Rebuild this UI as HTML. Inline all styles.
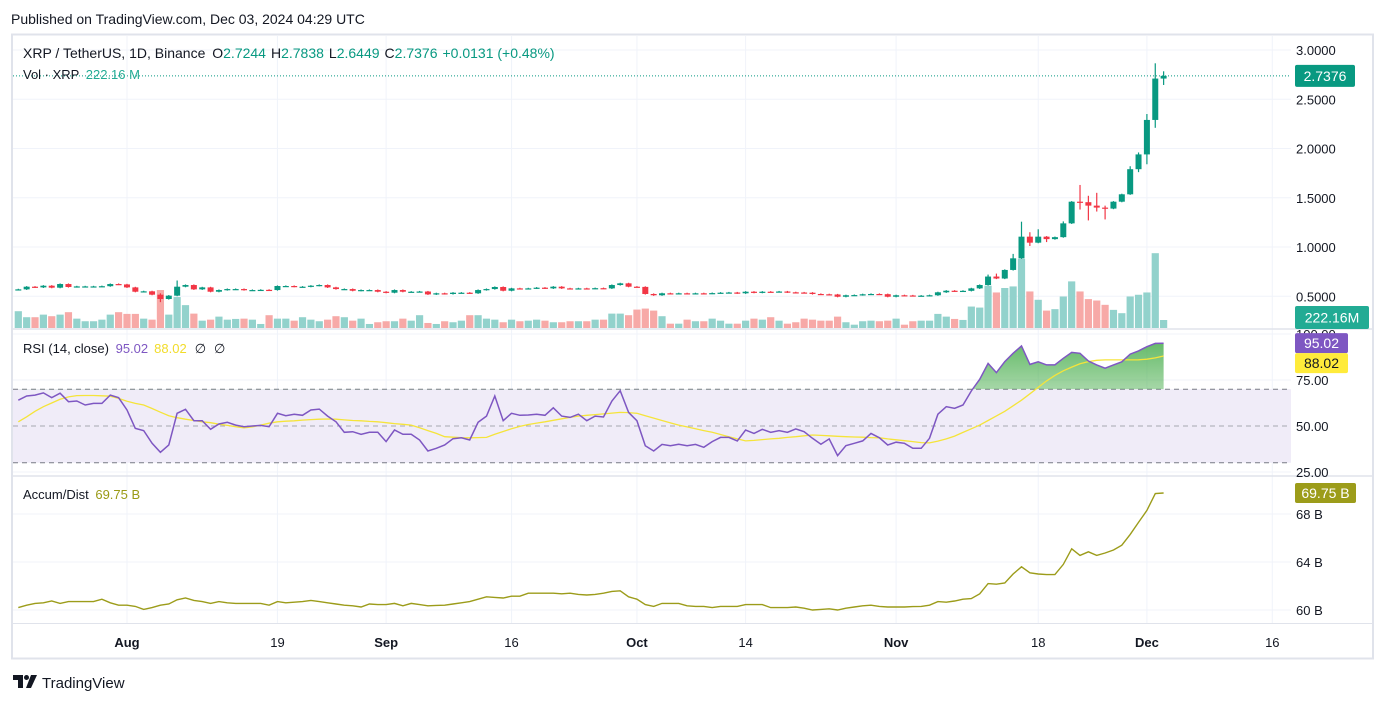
<!DOCTYPE html>
<html><head><meta charset="utf-8">
<style>
html,body{margin:0;padding:0;background:#fff;}
body{width:1387px;height:703px;position:relative;overflow:hidden;font-family:"Liberation Sans",sans-serif;color:#131722;}
svg text{font-family:"Liberation Sans",sans-serif;}
</style></head>
<body>
<svg id="chart" width="1387" height="703" viewBox="0 0 1387 703" xmlns="http://www.w3.org/2000/svg">
  <defs>
    <clipPath id="clipMain"><rect x="13" y="36" width="1278" height="292"/></clipPath>
    <clipPath id="clipRsi"><rect x="13" y="330" width="1278" height="145"/></clipPath>
    <clipPath id="clipRsiHi"><rect x="13" y="330" width="1278" height="59.2"/></clipPath>
    <clipPath id="clipAd"><rect x="13" y="477" width="1278" height="146"/></clipPath>
    <linearGradient id="rsiGrad" x1="0" y1="0" x2="0" y2="1">
      <stop offset="0" stop-color="#4caf50" stop-opacity="0.85"/>
      <stop offset="1" stop-color="#4caf50" stop-opacity="0"/>
    </linearGradient>
  </defs>
  <text x="11" y="24" font-size="14" fill="#131722">Published on TradingView.com, Dec 03, 2024 04:29 UTC</text>
  <rect x="12" y="34.5" width="1361" height="624" fill="none" stroke="#e0e3eb" stroke-width="2"/>
  <g id="grid"></g>
  <rect x="13" y="389.2" width="1278" height="73.6" fill="#f0ecf8"/>
  <g id="rsiGuides"></g>
  <line x1="13" y1="329" x2="1373" y2="329" stroke="#e0e3eb" stroke-width="1.5"/>
  <line x1="13" y1="476" x2="1373" y2="476" stroke="#e0e3eb" stroke-width="1.5"/>
  <line x1="13" y1="623.5" x2="1373" y2="623.5" stroke="#e0e3eb" stroke-width="1"/>
  <g id="volumes" clip-path="url(#clipMain)"></g>
  <line id="lastLine" x1="13" x2="1291" stroke="#089981" stroke-width="1" stroke-dasharray="1,2"/>
  <g id="candles" clip-path="url(#clipMain)"></g>
  <g id="rsiG" clip-path="url(#clipRsi)"></g>
  <g id="adG" clip-path="url(#clipAd)"></g>
  <g id="axes"></g>

  <text x="23" y="58" font-size="14" fill="#131722">XRP / TetherUS, 1D, Binance <tspan dx="3">O</tspan><tspan fill="#089981">2.7244</tspan><tspan dx="5">H</tspan><tspan fill="#089981">2.7838</tspan><tspan dx="5">L</tspan><tspan fill="#089981">2.6449</tspan><tspan dx="5">C</tspan><tspan fill="#089981">2.7376</tspan><tspan dx="5" fill="#089981">+0.0131 (+0.48%)</tspan></text>
  <text x="23" y="79" font-size="13" fill="#131722">Vol · XRP <tspan dx="3" fill="#22ab94">222.16 M</tspan></text>
  <text x="23" y="353" font-size="13" fill="#131722">RSI (14, close) <tspan dx="3" fill="#7e57c2">95.02</tspan><tspan dx="6" fill="#f2dc2a">88.02</tspan><tspan dx="8">∅</tspan><tspan dx="8">∅</tspan></text>
  <text x="23" y="499" font-size="13" fill="#131722">Accum/Dist <tspan dx="3" fill="#9a9a16">69.75 B</tspan></text>

  <g>
    <path d="M13 675h10v13h-5v-8h-5z" fill="#131722"/>
    <circle cx="26.5" cy="677.5" r="2.5" fill="#131722"/>
    <path d="M31 675h6l-6 13h-5z" fill="#131722"/>
    <text x="42" y="688" font-size="15" fill="#131722">TradingView</text>
  </g>
</svg>
<script>
const closes=[.570,.597,.590,.607,.587,.624,.594,.600,.600,.600,.602,.624,.620,.590,.546,.550,.516,.472,.506,.597,.614,.570,.590,.546,.563,.573,.573,.563,.563,.565,.563,.604,.604,.597,.597,.607,.614,.590,.573,.573,.556,.563,.563,.546,.536,.563,.546,.546,.548,.519,.530,.523,.536,.536,.530,.563,.573,.594,.556,.580,.578,.580,.587,.580,.597,.580,.578,.580,.578,.582,.580,.614,.631,.597,.595,.523,.510,.530,.528,.530,.528,.530,.528,.532,.536,.538,.530,.546,.536,.546,.544,.548,.540,.538,.536,.523,.520,.518,.495,.510,.512,.520,.523,.521,.495,.510,.508,.505,.506,.510,.540,.556,.550,.555,.580,.614,.700,.680,.767,.885,1.105,1.044,1.105,1.080,1.100,1.240,1.460,1.455,1.420,1.400,1.390,1.460,1.535,1.790,1.940,2.290,2.710,2.7376];
const firstOpen=0.565;
const wickHiIdx=[17,19,116,117,119,120,121,122,125,127,128,129,130,133,134,135,136,137];
const wickHiVal=[0.53,0.66,0.72,0.73,0.93,1.257,1.15,1.18,1.26,1.63,1.52,1.55,1.42,1.82,1.96,2.35,2.865,2.7838];
const wickLoIdx=[17,121,123,127,128,129,130,134,135,136,137];
const wickLoVal=[0.44,1.01,1.05,1.38,1.27,1.36,1.28,1.76,1.84,2.21,2.6449];
const volumes=[467,300,300,372,328,372,440,260,188,188,232,372,440,392,392,260,232,1056,372,860,636,400,204,232,316,232,252,260,232,112,356,260,260,204,300,232,188,232,328,300,204,260,112,160,188,188,260,204,356,140,112,188,160,204,356,356,260,232,160,232,188,204,232,204,160,160,188,188,188,232,232,400,400,356,512,540,484,328,120,120,232,188,188,260,204,120,120,204,260,232,300,204,120,160,260,232,204,204,316,160,92,188,204,188,204,260,92,188,204,204,392,316,252,224,596,568,1176,988,1112,1156,1924,1016,784,484,524,876,1296,1016,804,764,644,504,412,876,924,988,2080,222.16];
const rsi=[64,66.3,66.8,68,65.4,67.8,63.2,63.6,61.4,62.3,62.3,66.8,65.4,58.7,48.7,47.5,40.6,35.7,39.7,56.9,59.1,52.9,52.9,48.2,51.1,52,50.5,49.6,50,50.3,49.6,56.9,55.6,56.4,55.8,58.7,59.2,55.4,52.3,46.6,46.9,45.5,46.6,46.6,41.5,47.8,45.5,45.5,42.4,36.4,37.9,39.7,43.1,43.6,42.4,52,55.4,66.3,52.9,56.9,55.8,56,56.4,55.8,59.9,55.4,54.7,56.4,52.9,55.4,54.9,63.6,69.2,57.4,52.9,39.3,36.4,40,39.3,40.1,39.3,40,38.4,41.5,43.8,43.8,41.9,47.8,46,48.2,46.6,47.5,46.6,48.4,46.9,43.3,40.1,43,33.9,39.3,40.6,41.9,46,43.6,39.7,41.2,40.6,37.9,37.9,43.3,56.4,60.5,59.6,61.4,69,75.4,84,79,85,89.5,93.5,83.5,84.9,83.2,83.2,86.8,90,89.5,85.3,83.2,81.4,83.2,84.9,89.1,90.8,93.1,94.9,95.02];
const rsiMa=[52.3,55,58,60.5,62.5,64.5,65.8,66.5,66.6,66.6,66.4,66.2,65,63.5,62.3,61.4,59.5,57.5,55.6,54.5,53.7,53,52.3,51.8,51,50.3,49.6,49,49.5,50.5,51.5,52.3,52.6,52.8,53.2,53.5,53.7,53.8,53.7,53.3,53,52.8,52.5,52.3,51.8,51.3,50.9,50.5,49,47.5,46,44.2,43.9,43.7,43.6,43.7,43.8,45.5,47,48.5,49.8,50.8,51.6,52.3,53.1,53.9,54.7,55.4,55.8,56.2,56.6,57,57.4,57.3,56.9,55.6,54.3,53,51.7,50.5,49.5,48.5,47.5,46.6,45.4,44.2,43,41.9,42.2,42.6,43,43.3,43.8,44.2,44.7,45.1,44.9,44.7,44.4,44.2,44,43.9,43.7,43.6,43,42.5,42,41.5,41,40.8,41.8,43,44.5,46.5,48.5,50.5,53,55.5,58,61,64,67.5,71,74.5,77.5,80,82,83.8,85,85.7,85.9,85.9,85.9,85.9,86,86.3,87,88.02];
const accDist=[60.2,60.4,60.55,60.6,60.75,60.55,60.7,60.7,60.7,60.7,60.9,60.6,60.4,60.4,60.3,60.05,60.2,60.4,60.5,60.85,61.0,60.8,60.7,60.55,60.7,60.6,60.55,60.55,60.55,60.55,60.4,60.7,60.6,60.65,60.7,60.8,60.7,60.6,60.5,60.4,60.35,60.25,60.5,60.45,60.45,60.55,60.35,60.55,60.45,60.35,60.38,60.4,60.5,60.6,60.7,60.9,61.1,61.05,61.0,61.15,61.15,61.4,61.4,61.4,61.4,61.35,61.4,61.3,61.25,61.3,61.4,61.55,61.6,61.1,60.9,60.45,60.3,60.55,60.55,60.55,60.35,60.3,60.3,60.2,60.3,60.3,60.3,60.45,60.45,60.45,60.2,60.2,60.2,60.25,60.15,60.0,60.05,60.1,60.0,60.15,60.25,60.35,60.4,60.3,60.25,60.25,60.25,60.28,60.3,60.4,60.7,60.65,60.75,60.9,60.95,61.35,62.2,62.15,62.25,63.0,63.6,63.1,63.0,62.95,62.95,63.8,65.1,64.55,64.85,64.55,64.75,65.0,65.4,66.3,67.3,68.3,69.7,69.75];
const timeLabels=["Aug","19","Sep","16","Oct","14","Nov","18","Dec","16"];
const timeIdx=[13,31,44,59,74,87,105,122,135,150];
const timeBold=[true,false,true,false,true,false,true,false,true,false];
const priceTicks=[3.0,2.5,2.0,1.5,1.0,0.5];
const rsiTicks=[100,75,50,25];
const adTicks=[68,64,60];

const NS="http://www.w3.org/2000/svg";
function xS(i){return 18.3+8.36*i;}
function yP(p){return 50+(3-p)*98.5;}
function yV(v){return 328-v/27.8;}
function yR(r){return 426-(r-50)*1.84;}
function yA(b){return 610-(b-60)*12;}
function mk(tag,attrs,parent){const e=document.createElementNS(NS,tag);for(const k in attrs)e.setAttribute(k,attrs[k]);parent.appendChild(e);return e;}
const grid=document.getElementById('grid');
timeIdx.forEach((d,k)=>{
  const l=mk('line',{x1:xS(d),x2:xS(d),y1:36,y2:623,stroke:'#f0f3fa','stroke-width':1},grid);
  
  
});
priceTicks.forEach(p=>{
  const l=mk('line',{x1:13,x2:1291,y1:yP(p),y2:yP(p),stroke:'#f0f3fa','stroke-width':1},grid);
  
  
});
rsiTicks.forEach(r=>{
  const l=mk('line',{x1:13,x2:1291,y1:yR(r),y2:yR(r),stroke:'#f0f3fa','stroke-width':1},grid);
  
  
});
adTicks.forEach(b=>{
  const l=mk('line',{x1:13,x2:1291,y1:yA(b),y2:yA(b),stroke:'#f0f3fa','stroke-width':1},grid);
  
  
});
const guides=document.getElementById('rsiGuides');
[[70,'#787b86'],[50,'#a6a8b0'],[30,'#787b86']].forEach(g=>{
  const l=mk('line',{x1:13,x2:1291,y1:yR(g[0]),y2:yR(g[0]),stroke:g[1],'stroke-width':1,'stroke-dasharray':'5,4'},guides);
  
  
});
const cg=document.getElementById('candles'),vg=document.getElementById('volumes');
closes.forEach((c,i)=>{
  const o=i===0?firstOpen:closes[i-1];
  const up=c>=o;
  let hi=Math.max(o,c)+0.006,lo=Math.min(o,c)-0.006;
  const hk=wickHiIdx.indexOf(i);if(hk>=0)hi=wickHiVal[hk];
  const lk=wickLoIdx.indexOf(i);if(lk>=0)lo=wickLoVal[lk];
  const col=up?'#089981':'#f23645';
  const x=xS(i);
  const v=volumes[i];
  const vb=mk('rect',{x:x-3.6,y:yV(v),width:7.2,height:328-yV(v),fill:up?'#92d2cc':'#f7a9a7'},vg);
  
  
  const w=mk('line',{x1:x,x2:x,y1:yP(hi),y2:yP(lo),stroke:col,'stroke-width':1.2},cg);
  
  
  const yt=yP(Math.max(o,c)),yb=yP(Math.min(o,c));
  const b=mk('rect',{x:x-3,y:yt,width:6,height:Math.max(1.2,yb-yt),fill:col},cg);
  
  
});
const last=closes[closes.length-1];
const ll=document.getElementById('lastLine');ll.setAttribute('y1',yP(last));ll.setAttribute('y2',yP(last));
const rg=document.getElementById('rsiG');
const rpts=rsi.map((r,i)=>xS(i).toFixed(1)+','+yR(r).toFixed(1));
const area=mk('path',{d:'M'+xS(0)+','+yR(70)+' L'+rpts.join(' L')+' L'+xS(rsi.length-1)+','+yR(70)+' Z',fill:'url(#rsiGrad)','clip-path':'url(#clipRsiHi)'},rg);


const ma=mk('polyline',{points:rsiMa.map((r,i)=>xS(i).toFixed(1)+','+yR(r).toFixed(1)).join(' '),fill:'none',stroke:'#f5e43a','stroke-width':1.3},rg);


const rl=mk('polyline',{points:rpts.join(' '),fill:'none',stroke:'#7e57c2','stroke-width':1.5},rg);


const ag=document.getElementById('adG');
const al=mk('polyline',{points:accDist.map((b,i)=>xS(i).toFixed(1)+','+yA(b).toFixed(1)).join(' '),fill:'none',stroke:'#9c9c1a','stroke-width':1.4},ag);


const ax=document.getElementById('axes');
priceTicks.forEach(p=>{
  const t=mk('text',{x:1296,y:yP(p)+5,'font-size':13,fill:'#131722'},ax);t.textContent=p.toFixed(4);
  
  
});
rsiTicks.forEach(r=>{
  const t=mk('text',{x:1296,y:yR(r)+5,'font-size':13,fill:'#131722'},ax);t.textContent=r.toFixed(2);
  
  
});
adTicks.forEach(b=>{
  const t=mk('text',{x:1296,y:yA(b)+5,'font-size':13,fill:'#131722'},ax);t.textContent=b+' B';
  
  
});
timeLabels.forEach((s,k)=>{
  const t=mk('text',{x:xS(timeIdx[k]),y:647,'font-size':13,'text-anchor':'middle',fill:'#131722','font-weight':timeBold[k]?'bold':'normal'},ax);t.textContent=s;
  
  
});
function badge(name,x,y,w,h,bg,fg,txt){
  const r=mk('rect',{x:x,y:y,width:w,height:h,rx:2,fill:bg},ax);
  
  
  const t=mk('text',{x:x+w/2,y:y+h/2+5,'font-size':14,'text-anchor':'middle',fill:fg},ax);t.textContent=txt;
  
  
}
badge('last-price',1295,yP(last)-11,60,22,'#089981','#fff',last.toFixed(4));
badge('volume',1295,306,74,23,'#22ab94','#fff','222.16M');
const rsiBadgeY=yR(rsi[rsi.length-1])-10;
badge('rsi-value',1295,rsiBadgeY,53,20,'#7e57c2','#fff',rsi[rsi.length-1].toFixed(2));
badge('rsi-ma-value',1295,Math.max(rsiBadgeY+20,yR(rsiMa[rsiMa.length-1])-10),53,20,'#ffeb3b','#131722',rsiMa[rsiMa.length-1].toFixed(2));
badge('ad-value',1295,yA(accDist[accDist.length-1])-10,61,20,'#9c9c1a','#fff',accDist[accDist.length-1].toFixed(2)+' B');
</script>
</body></html>
